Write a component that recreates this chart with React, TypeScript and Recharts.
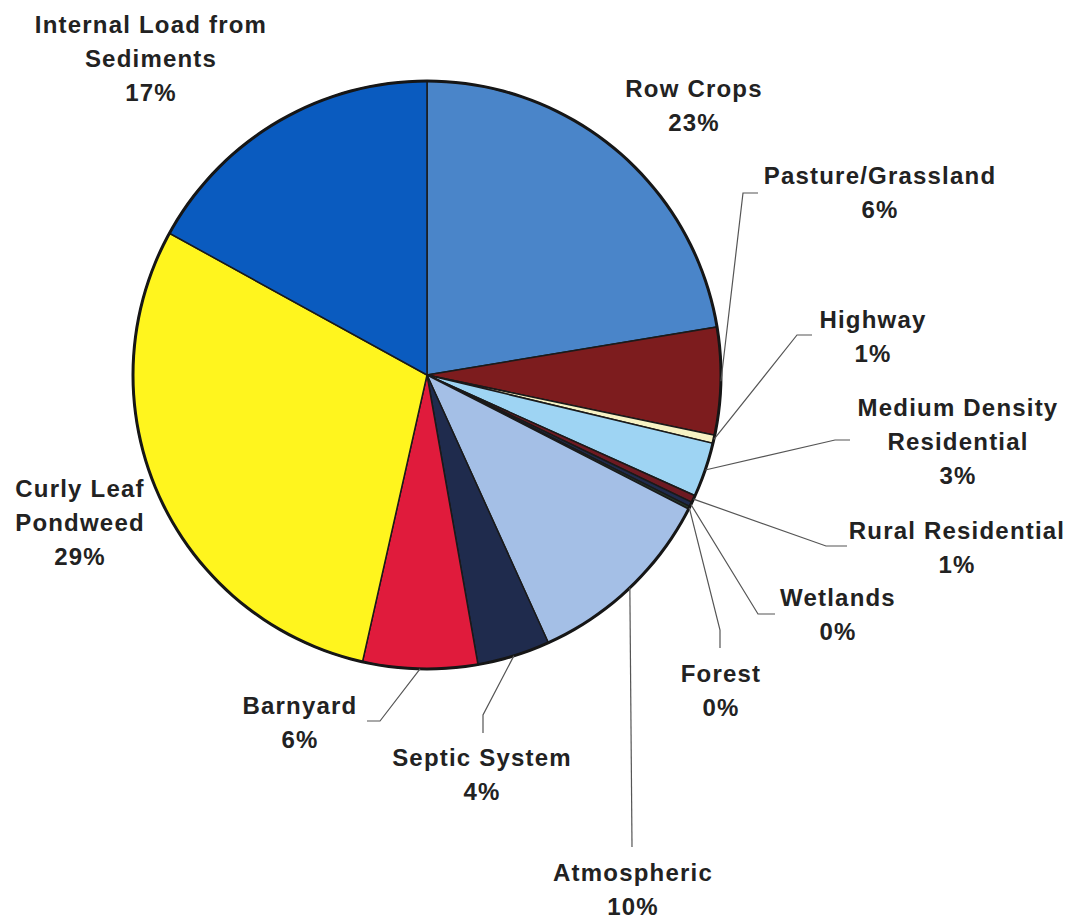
import React from 'react';
import { PieChart, Pie, Cell } from 'recharts';

const categories = [
  'Row Crops',
  'Pasture/Grassland',
  'Highway',
  'Medium Density Residential',
  'Rural Residential',
  'Wetlands',
  'Forest',
  'Atmospheric',
  'Septic System',
  'Barnyard',
  'Curly Leaf Pondweed',
  'Internal Load from Sediments',
];
const values = [22.4, 5.9, 0.45, 3.0, 0.4, 0.25, 0.15, 10.7, 4.0, 6.3, 29.5, 17.0];
const percentLabels = ['23%', '6%', '1%', '3%', '1%', '0%', '0%', '10%', '4%', '6%', '29%', '17%'];
const labelTextLines: string[][] = [
  ['Row Crops'],
  ['Pasture/Grassland'],
  ['Highway'],
  ['Medium Density', 'Residential'],
  ['Rural Residential'],
  ['Wetlands'],
  ['Forest'],
  ['Atmospheric'],
  ['Septic System'],
  ['Barnyard'],
  ['Curly Leaf', 'Pondweed'],
  ['Internal Load from', 'Sediments'],
];

const colors = [
  '#4a85c9',
  '#7d1c1e',
  '#f7f2c4',
  '#9ed4f3',
  '#6e1a22',
  '#1f2b4d',
  '#243a2a',
  '#a4bfe6',
  '#1f2b4d',
  '#e01b3c',
  '#fff51e',
  '#0a5bbf',
];

// label layout: text center x, first-line center y, leader points from label side toward slice
const labelLayout: { x: number; y: number; leader: number[][] | null }[] = [
  { x: 694, y: 88, leader: null },
  { x: 880, y: 175, leader: [[758, 193], [743, 193]] },
  { x: 873, y: 319, leader: [[812, 335], [797, 335]] },
  { x: 958, y: 407, leader: [[850, 440], [835, 440]] },
  { x: 957, y: 530, leader: [[847, 546], [826, 546]] },
  { x: 838, y: 597, leader: [[775, 614], [758, 614]] },
  { x: 721, y: 673, leader: [[720, 648], [720, 630]] },
  { x: 633, y: 872, leader: [[632, 847]] },
  { x: 482, y: 757, leader: [[483, 733], [483, 715]] },
  { x: 300, y: 705, leader: [[367, 721], [380, 721]] },
  { x: 80, y: 488, leader: null },
  { x: 151, y: 24, leader: null },
];

const data = categories.map((name, i) => ({ name, value: values[i] }));
const outline = [{ name: 'outline', value: 1 }];

const RADIAN = Math.PI / 180;
const LINE_H = 34;

const renderLabel = (props: any) => {
  const { cx, cy, midAngle, outerRadius, index } = props;
  const layout = labelLayout[index];
  const lines = [...labelTextLines[index], percentLabels[index]];
  const ex = cx + outerRadius * Math.cos(-midAngle * RADIAN);
  const ey = cy + outerRadius * Math.sin(-midAngle * RADIAN);
  let path: React.ReactNode = null;
  if (layout.leader) {
    const pts = [...layout.leader, [ex, ey]].map((p) => p.join(',')).join(' ');
    path = <polyline points={pts} fill="none" stroke="#555" strokeWidth={1.2} />;
  }
  return (
    <g key={`lbl-${index}`}>
      {path}
      <text
        x={layout.x}
        y={layout.y}
        textAnchor="middle"
        fill="#222"
        style={{
          fontFamily: '"Liberation Sans", Arial, Helvetica, sans-serif',
          fontWeight: 700,
          fontSize: 24,
          letterSpacing: 1.2,
        }}
      >
        {lines.map((t, i) => (
          <tspan key={i} x={layout.x} y={layout.y + i * LINE_H} dominantBaseline="central">
            {t}
          </tspan>
        ))}
      </text>
    </g>
  );
};

export default function App() {
  return (
    <div style={{ position: 'absolute', left: 0, top: 0, width: 1078, height: 920, background: '#fff' }}>
      <PieChart width={1078} height={920} margin={{ top: 0, right: 0, bottom: 0, left: 0 }}>
        <Pie
          data={data}
          dataKey="value"
          nameKey="name"
          cx={427}
          cy={375}
          outerRadius={294}
          startAngle={90}
          endAngle={-270}
          stroke="#1a1a1a"
          strokeWidth={1.5}
          label={renderLabel}
          labelLine={false}
          isAnimationActive={false}
        >
          {data.map((d, i) => (
            <Cell key={d.name} fill={colors[i]} />
          ))}
        </Pie>
        <Pie
          data={outline}
          dataKey="value"
          cx={427}
          cy={375}
          innerRadius={292.5}
          outerRadius={295.5}
          startAngle={90}
          endAngle={-270}
          fill="#161616"
          stroke="none"
          label={false}
          labelLine={false}
          isAnimationActive={false}
        />
      </PieChart>
    </div>
  );
}
